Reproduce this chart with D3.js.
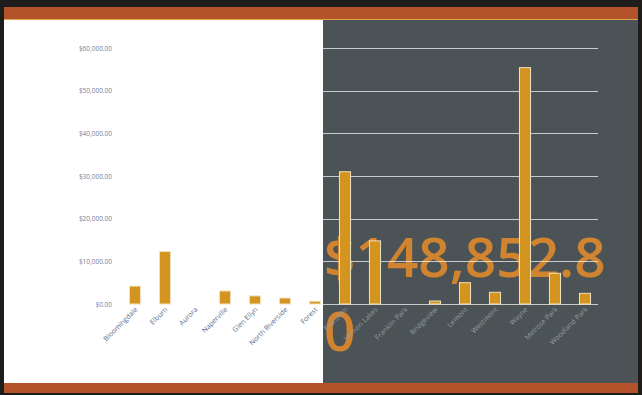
<!DOCTYPE html>
<html>
<head>
<meta charset="utf-8">
<script src="https://cdn.jsdelivr.net/npm/d3@7"></script>
<style>
  body { margin: 0; background: #1c1c1c; }
  svg { display: block; }
</style>
</head>
<body>
<svg id="chart" width="642" height="395"></svg>
<script>
// sales by town
var towns = ["Bloomingdale", "Elburn", "Aurora", "Naperville", "Glen Ellyn", "North Riverside", "Forest",
             "Evanston", "Vernon Lakes", "Franklin Park", "Bridgeview", "Lemont", "Westmont", "Wayne",
             "Melrose Park", "Woodland Park"];
var sales = [4200, 12300, 0, 3050, 1900, 1400, 650,
             31000, 14800, 0, 700, 5000, 2750, 55400,
             7200, 2500];
var yTicks = [0, 10000, 20000, 30000, 40000, 50000, 60000];
var totalLabel = ["$148,852.8", "0"];

var svg = d3.select("#chart");
var W = 642, H = 395;

// frame: dark edge, rust bands top and bottom
svg.append("rect").attr("width", W).attr("height", H).attr("fill", "#1f1d1c");
svg.append("rect").attr("x", 4).attr("y", 7).attr("width", 634).attr("height", 12).attr("fill", "#b3532c");
svg.append("rect").attr("x", 4).attr("y", 383).attr("width", 634).attr("height", 10).attr("fill", "#b3532c");
svg.append("rect").attr("x", 4).attr("y", 19).attr("width", 319).attr("height", 364).attr("fill", "#ffffff");
svg.append("rect").attr("x", 323).attr("y", 19).attr("width", 315).attr("height", 364).attr("fill", "#4b5356");
svg.append("line").attr("x1", 4).attr("x2", 638).attr("y1", 19.5).attr("y2", 19.5)
  .attr("stroke", "#e3a650").attr("stroke-width", 1);

var x = d3.scaleBand().domain(towns).range([120, 600]).paddingInner(0.63).paddingOuter(0.315);
var y = d3.scaleLinear().domain([0, 60000]).range([304, 48]);
var money = d3.format("$,.2f");

// big total, sits behind grid and bars
var big = svg.append("text")
  .attr("font-family", "'Open Sans', sans-serif")
  .attr("font-size", 55)
  .attr("font-weight", 600)
  .attr("fill", "#e0892b")
  .attr("fill-opacity", 0.9);
big.selectAll("tspan").data(totalLabel).enter().append("tspan")
  .attr("x", 324)
  .attr("y", function(d, i) { return 277 + i * 74; })
  .text(function(d) { return d; });

// gridlines (white, so they only show on the dark half)
svg.append("g").selectAll("line").data(yTicks).enter().append("line")
  .attr("x1", 120).attr("x2", 598)
  .attr("y1", function(d) { return Math.round(y(d)) + 0.5; })
  .attr("y2", function(d) { return Math.round(y(d)) + 0.5; })
  .attr("stroke", "#ffffff")
  .attr("stroke-opacity", 0.7)
  .attr("stroke-width", 1);

// y axis labels
svg.append("g").selectAll("text").data(yTicks).enter().append("text")
  .attr("x", 112)
  .attr("y", function(d) { return y(d) + 2.5; })
  .attr("text-anchor", "end")
  .attr("font-family", "'Open Sans', sans-serif")
  .attr("font-size", 6.5)
  .attr("fill", "#7481a0")
  .text(function(d) { return money(d); });

// bars
svg.append("g").selectAll("rect").data(towns).enter().append("rect")
  .attr("x", function(d) { return x(d); })
  .attr("width", x.bandwidth())
  .attr("y", function(d, i) { return y(sales[i]); })
  .attr("height", function(d, i) { return y(0) - y(sales[i]); })
  .attr("fill", "#d3951f")
  .attr("stroke", "#efe2c0")
  .attr("stroke-width", function(d, i) { return sales[i] > 0 ? 1 : 0; });

// x labels, rotated
svg.append("g").selectAll("text").data(towns).enter().append("text")
  .attr("transform", function(d) {
    return "translate(" + (x(d) + x.bandwidth() / 2 + 3) + ",310) rotate(-45)";
  })
  .attr("text-anchor", "end")
  .attr("font-family", "'Open Sans', sans-serif")
  .attr("font-size", 7)
  .attr("fill", function(d) { return x(d) < 323 ? "#56698f" : "#959da0"; })
  .text(function(d) { return d; });
</script>
</body>
</html>
